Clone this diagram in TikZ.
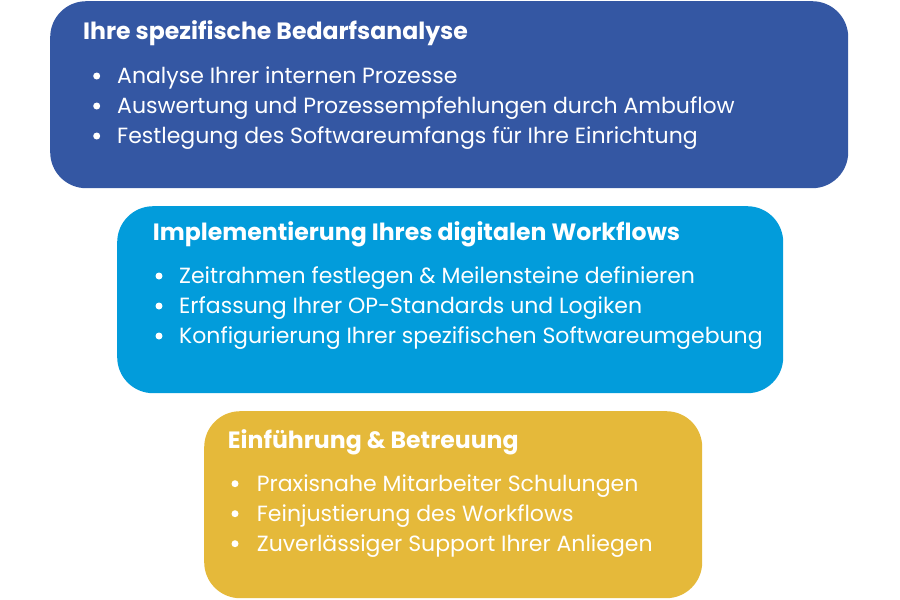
\documentclass[tikz,border=0pt]{standalone}
\usepackage{fontspec}
\setmainfont{Poppins}
\usetikzlibrary{positioning}
\definecolor{blueDark}{HTML}{3457A3}
\definecolor{blueLight}{HTML}{029CDB}
\definecolor{yellowWarm}{HTML}{E5B93A}
\tikzset{phase-box/.style={draw=none, rounded corners=36pt, inner sep=0, minimum height=187pt, anchor=north west}}
\tikzset{phase-title/.style={anchor=base west, text=white, inner sep=0, font=\fontsize{23.6}{26}\selectfont\bfseries}}
\tikzset{phase-item/.style={anchor=base west, text=white, inner sep=0, font=\fontsize{22}{26}\selectfont}}
\tikzset{phase-dot/.style={circle, fill=white, inner sep=0, minimum size=7pt}}
% #1 name, #2 x of dot, #3 x of text, #4 first baseline, #5 items
\newcommand{\phaseitems}[5]{
    \foreach \txt [count=\i] in {#5} {
        \node[phase-item] (#1item\i) at (#3, #4 + 30*\i - 30) {\txt};
        \node[phase-dot] (#1dot\i) at (#2, #4 + 30*\i - 37.3) {};
    }
}

\begin{document}
\begin{tikzpicture}[x=1pt, y=-1pt]
            \useasboundingbox (0,0) rectangle (900,600);

            \node[phase-box, fill=blueDark, minimum width=798pt] (analyse) at (50,1) {};
            \node[phase-title] (analysetitle) at (83,39.3) {Ihre spezifische Bedarfsanalyse};
            \phaseitems{analyse}{96.7}{117}{83.3}{Analyse Ihrer internen Prozesse, Auswertung und Prozessempfehlungen durch Ambuflow, Festlegung des Softwareumfangs für Ihre Einrichtung}

            \node[phase-box, fill=blueLight, minimum width=666pt] (workflow) at (117,206) {};
            \node[phase-title] (workflowtitle) at (152.7,240.7) {Implementierung Ihres digitalen Workflows};
            \phaseitems{workflow}{159}{179}{283.3}{Zeitrahmen festlegen \& Meilensteine definieren, Erfassung Ihrer OP-Standards und Logiken, Konfigurierung Ihrer spezifischen Softwareumgebung}

            \node[phase-box, fill=yellowWarm, minimum width=498pt] (betreuung) at (204,411) {};
            \node[phase-title] (betreuungtitle) at (227.7,448.3) {Einführung \& Betreuung};
            \phaseitems{betreuung}{235}{256.7}{491}{Praxisnahe Mitarbeiter Schulungen, Feinjustierung des Workflows, Zuverlässiger Support Ihrer Anliegen}
        \end{tikzpicture}
\end{document}
